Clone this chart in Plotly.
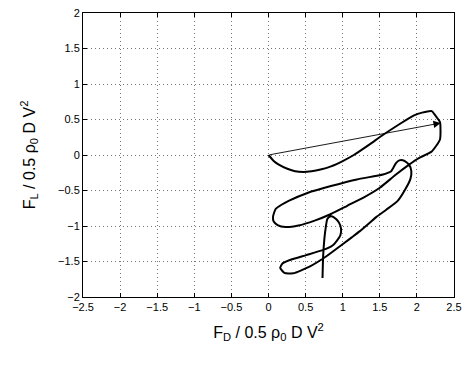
import plotly.graph_objects as go

# Trajectory (F_D, F_L)
fd = [0.0, 0.07, 0.139, 0.254, 0.359, 0.468, 0.579, 0.70, 0.842, 1.0, 1.15, 1.368, 1.521, 1.763, 1.961, 2.07, 2.20,
      2.254, 2.311, 2.311, 2.20, 2.026, 1.895, 1.718, 1.5, 1.28, 1.061, 0.842, 0.622, 0.403, 0.228, 0.122,
      0.07, 0.061, 0.096, 0.175, 0.271, 0.534, 0.842, 1.192, 1.543, 1.653, 1.718, 1.763, 1.829, 1.895,
      1.925, 1.912, 1.846, 1.741, 1.587, 1.451, 1.368, 1.228, 1.122, 1.017, 0.771, 0.553, 0.333, 0.214,
      0.158, 0.188, 0.289, 0.508, 0.728, 0.859, 0.925, 0.968, 0.978, 0.947, 0.882, 0.837, 0.793, 0.763,
      0.737, 0.728]
fl = [0.0, -0.083, -0.136, -0.194, -0.229, -0.239, -0.229, -0.205, -0.160, -0.085, 0.0, 0.153, 0.267, 0.433, 0.558, 0.597, 0.618,
      0.549, 0.465, 0.219, 0.049, -0.044, -0.136, -0.275, -0.461, -0.6, -0.715, -0.831, -0.924, -0.993, -1.014, -0.986,
      -0.9375, -0.868, -0.761, -0.701, -0.646, -0.531, -0.4375, -0.344, -0.275, -0.229, -0.114, -0.076, -0.081, -0.136,
      -0.229, -0.340, -0.479, -0.646, -0.771, -0.875, -0.951, -1.076, -1.160, -1.243, -1.433, -1.572, -1.667, -1.660,
      -1.590, -1.528, -1.479, -1.410, -1.340, -1.278, -1.201, -1.132, -1.039, -0.947, -0.878, -0.864, -0.9, -1.086,
      -1.410, -1.733]

arrow_start = (0.0, 0.0)
arrow_end = (2.32, 0.45)

xticks = [-2.5, -2, -1.5, -1, -0.5, 0, 0.5, 1, 1.5, 2, 2.5]
yticks = [-2, -1.5, -1, -0.5, 0, 0.5, 1, 1.5, 2]

fig = go.Figure()
fig.add_trace(go.Scatter(x=fd, y=fl, mode="lines",
                         line=dict(color="black", width=2, shape="spline", smoothing=0.5),
                         showlegend=False))

fig.add_annotation(x=arrow_end[0], y=arrow_end[1], ax=arrow_start[0], ay=arrow_start[1],
                   xref="x", yref="y", axref="x", ayref="y", text="", showarrow=True,
                   arrowhead=2, arrowsize=1.6, arrowwidth=0.9, arrowcolor="black", standoff=0)

font = "Liberation Sans, Arial, sans-serif"
axis_common = dict(showline=True, linecolor="black", linewidth=1, mirror="ticks",
                   ticks="inside", ticklen=4, tickcolor="black", showgrid=True,
                   gridcolor="#777777", griddash="1px,3px", gridwidth=1, zeroline=False,
                   tickfont=dict(family=font, size=11, color="black"))

fig.update_xaxes(range=[-2.5, 2.5], tickvals=xticks,
                 ticktext=[f"{v:g}".replace("-", "\u2212") for v in xticks],
                 title=dict(text="F<sub>D</sub> / 0.5 ρ<sub>0</sub> D V<sup>2</sup>",
                            font=dict(family=font, size=16, color="black"), standoff=14),
                 **axis_common)
fig.update_yaxes(range=[-2, 2], tickvals=yticks,
                 ticktext=[f"{v:g}".replace("-", "\u2212") for v in yticks],
                 title=dict(text="F<sub>L</sub> / 0.5 ρ<sub>0</sub> D V<sup>2</sup>",
                            font=dict(family=font, size=16, color="black"), standoff=18),
                 **axis_common)

fig.update_layout(width=469, height=367, margin=dict(l=83, r=7, t=9, b=70),
                  paper_bgcolor="white", plot_bgcolor="white", showlegend=False)

fig.write_html("out.html")
